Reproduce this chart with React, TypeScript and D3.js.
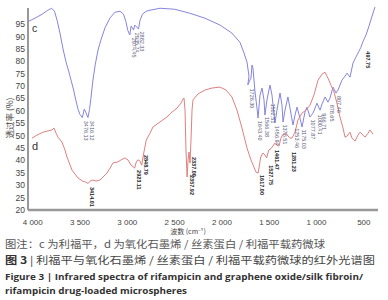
import React from "react";
import * as d3 from "d3";

// ---- data ----
const cWavenumber = [4040,3976,3900,3840,3800,3770,3740,3710,3680,3650,3620,3595,3570,3545,3520,3500,3476,3455,3440,3416,3400,3385,3365,3340,3310,3280,3236,3183,3130,3077,3040,3015,2995,2974,2960,2945,2935,2920,2900,2882,2866,2840,2800,2760,2655,2500,2340,2180,2020,1895,1810,1770,1735,1714,1726,1704,1693,1682,1672,1650,1629,1618,1597,1576,1555,1545,1524,1492,1471,1439,1418,1386,1365,1354,1333,1302,1280,1249,1227,1206,1175,1153,1122,1101,1069,1037,995,963,942,910,879,857,826,794,773,731,699,678,646,614,583,562,530,508,477,445,413,382];
const cTransmittance = [96.2,97.4,99.0,100.6,101.4,100.2,96.2,91.0,85.0,80.0,76.0,72.4,68.8,64.4,60.5,58.5,57.3,60.7,59.5,57.3,60.5,65,72,78.5,84.5,88.5,93.5,97.5,99.8,100.2,99.0,96,92.5,90.6,94.2,93.4,92.6,94.6,93.8,93.0,96.5,99,100.2,100.6,101.4,101.0,99.4,97.4,94.6,91.4,87.7,83.7,79.7,74,70.5,72.4,73.2,78.5,77.3,67.6,61.1,57.1,66.4,69.2,64.4,58.3,64.4,70.4,66.4,55.1,60.3,67.2,62.3,55.5,60.3,65.6,61.1,54.3,58.3,61.5,57.1,53.5,59.5,61.5,57.5,59.1,63.1,60.3,62.7,65.6,63.5,65.2,69.6,67.2,68.4,72.4,74.0,75.2,73.6,79.3,81.7,83.3,85.7,88.1,90.6,94.2,98.2,101.9];

const dWavenumber = [4008,3955,3891,3839,3796,3775,3754,3733,3691,3659,3638,3585,3521,3470,3440,3414,3390,3373,3331,3289,3247,3215,3183,3151,3099,3067,3025,2993,2961,2940,2923,2905,2890,2870,2848,2830,2800,2760,2729,2655,2581,2528,2475,2433,2412,2401,2390,2380,2368,2358,2348,2337,2327,2316,2306,2253,2179,2105,2020,1957,1894,1841,1788,1735,1693,1661,1640,1617,1605,1590,1566,1545,1527,1505,1480,1461,1440,1420,1397,1376,1354,1323,1291,1281,1259,1227,1196,1153,1111,1069,1027,984,942,910,879,847,815,784,752,720,699,678,646,625,593,562,540,508,487,455,434,403,371];
const dTransmittance = [49.0,50.2,51.4,51.9,52.3,53.1,51.0,49.4,47.4,44.2,41.4,36.1,32.9,31.6,31.3,30.7,31.8,32.1,31.7,32.1,33.7,34.9,36.9,39.0,39.4,40.2,41.0,40.2,38.1,37.5,36.9,39.4,40.2,40.0,38.1,42.2,48.2,51.0,53.5,55.5,57.5,59.5,61.1,63.1,64.8,65.2,60.3,44.2,33.3,40.2,43.4,39.0,48.2,60.3,64.4,66.8,68.4,69.2,69.6,68.4,65.6,60.3,53.1,45.0,40.2,37.3,35.3,34.9,37.7,41.4,43.0,42.2,41.0,44.2,44.8,45.8,47.0,46.2,45.8,49.0,50.6,51.0,49.4,49.0,49.0,51.4,56.3,59.1,60.3,62.3,66.4,72.4,74.8,75.6,73.2,70.4,67.6,63.1,57.5,53.1,49.4,49.8,51.4,49.0,47.8,50.2,51.4,50.2,49.4,51.0,52.3,50.6];

const cLabels = ["3476.13","3416.12","2974.45","2935.74","2882.33","1726.30","1643.40","1566.38","1502.51","1456.94","1376.51","1253.46","1175.03","1077.87","1000.41","966.71","878.65","807.46"];
const cLabelTop = [56,56,89.5,91.5,92,69,56,57.5,63,54,54.5,53,52.5,56.5,58.5,59,62.5,66];
const cStrongLabels = ["497.75"];
const cStrongLabelTop = [84];

const dLabels = ["3414.01","2923.11","2848.79","2357.92","2337.00","1617.00","1527.75","1461.47","1281.23"];
const dLabelTop = [29.3,36.1,42.2,34.1,41.4,34.1,38.1,44.2,43.4];

const xTicks = [4000,3500,3000,2500,2000,1500,1000,500];
const xTickLabels = ["4 000","3 500","3 000","2 500","2 000","1 500","1 000","500"];
const yTicks = [20,25,30,35,40,45,50,55,60,65,70,75,80,85,90,95];

export default function App() {
  const x = d3.scaleLinear().domain([4050, 350]).range([28, 378]);
  const y = d3.scaleLinear().domain([20, 101.5]).range([210, 8]);
  const line = d3.line<[number, number]>().x(d => x(d[0])).y(d => y(d[1]));
  const cData = cWavenumber.map((w, i) => [w, cTransmittance[i]] as [number, number]);
  const dData = dWavenumber.map((w, i) => [w, dTransmittance[i]] as [number, number]);
  const sans = "'Liberation Sans', Arial, sans-serif";
  const cjk = "'Noto Sans CJK SC', 'Noto Sans', sans-serif";
  const labelEl = (txt: string, t: number, key: string, fill: string, weight: string) => {
    const px = x(parseFloat(txt));
    const py = y(t);
    return (
      <text key={key} transform={`translate(${px + 2},${py}) rotate(90)`} fontSize={5.5}
        fontFamily={sans} fill={fill} fontWeight={weight}>{txt}</text>
    );
  };
  return (
    <svg width={388} height={300} style={{ position: "absolute", left: 0, top: 0, background: "#fff" }}>
      {/* axes */}
      <line x1={28} x2={28} y1={8} y2={210} stroke="#333" strokeWidth={1} />
      <line x1={28} x2={378} y1={210} y2={210} stroke="#999" strokeWidth={2.5} />
      {yTicks.map(t => (
        <text key={t} x={25} y={y(t) + 3} textAnchor="end" fontSize={8.5} fill="#444" fontFamily={sans}>{t}</text>
      ))}
      {xTicks.map((t, i) => (
        <text key={t} x={x(t)} y={224.5} textAnchor="middle" fontSize={8} fill="#444" fontFamily={sans}>{xTickLabels[i]}</text>
      ))}
      <text x={188} y={234} textAnchor="middle" fontSize={7} fill="#444" fontFamily={cjk}>波数 (cm⁻¹)</text>
      <text transform="translate(13,118) rotate(-90)" textAnchor="middle" fontSize={8.5} fill="#444" fontFamily={cjk}>透过率 (%)</text>

      {/* curves */}
      <path d={line(cData) || ""} fill="none" stroke="#8585de" strokeWidth={1} />
      <path d={line(dData) || ""} fill="none" stroke="#e08080" strokeWidth={1} />

      <text x={32} y={32} fontSize={10.5} fill="#333" fontFamily={sans}>c</text>
      <text x={32} y={150} fontSize={11} fill="#333" fontFamily={sans}>d</text>

      {cLabels.map((l, i) => labelEl(l, cLabelTop[i], "c" + i, "#5a5a7a", "normal"))}
      {cStrongLabels.map((l, i) => labelEl(l, cStrongLabelTop[i], "s" + i, "#222", "bold"))}
      {dLabels.map((l, i) => labelEl(l, dLabelTop[i], "d" + i, "#222", "bold"))}

      {/* caption */}
      <text x={5} y={247.5} fontSize={10} fill="#555" fontFamily={cjk} textLength={320} lengthAdjust="spacingAndGlyphs">图注：c 为利福平，d 为氧化石墨烯 / 丝素蛋白 / 利福平载药微球</text>
      <text x={5} y={264} fontSize={10} fill="#444" fontFamily={cjk} textLength={370} lengthAdjust="spacingAndGlyphs">
        <tspan fontWeight="bold" fill="#333">图 3</tspan> | 利福平与氧化石墨烯 / 丝素蛋白 / 利福平载药微球的红外光谱图
      </text>
      <text x={5} y={279.5} fontSize={9} fontWeight="bold" fill="#333" fontFamily="'Open Sans', sans-serif" textLength={358} lengthAdjust="spacingAndGlyphs">Figure 3 | Infrared spectra of rifampicin and graphene oxide/silk fibroin/</text>
      <text x={5} y={294} fontSize={9} fontWeight="bold" fill="#333" fontFamily="'Open Sans', sans-serif" textLength={182} lengthAdjust="spacingAndGlyphs">rifampicin drug-loaded microspheres</text>
    </svg>
  );
}
